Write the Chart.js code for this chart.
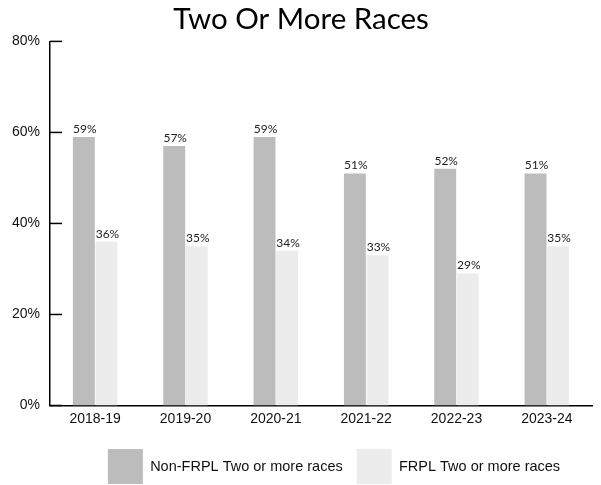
<!DOCTYPE html>
<html>
<head>
<meta charset="utf-8">
<script src="https://cdn.jsdelivr.net/npm/chart.js@4/dist/chart.umd.min.js"></script>
<style>
  html, body { margin: 0; padding: 0; background: #fff; }
  #wrap { width: 601px; height: 485px; }
</style>
</head>
<body>
<div id="wrap"><canvas id="myChart"></canvas></div>
<script>
const years = ['2018-19', '2019-20', '2020-21', '2021-22', '2022-23', '2023-24'];
const nonFrpl = [59, 57, 59, 51, 52, 51];
const frpl = [36, 35, 34, 33, 29, 35];
const yTicks = [0, 20, 40, 60, 80];

// inward tick marks on the y axis
const innerTicks = {
  id: 'innerTicks',
  afterDraw(chart) {
    const y = chart.scales.y;
    const ctx = chart.ctx;
    ctx.save();
    ctx.strokeStyle = '#000';
    ctx.lineWidth = 1.5;
    yTicks.forEach(v => {
      const py = y.getPixelForValue(v);
      ctx.beginPath();
      ctx.moveTo(chart.chartArea.left, py);
      ctx.lineTo(chart.chartArea.left + 12, py);
      ctx.stroke();
    });
    ctx.restore();
  }
};

// value labels above each bar
const barLabels = {
  id: 'barLabels',
  afterDatasetsDraw(chart) {
    const ctx = chart.ctx;
    ctx.save();
    ctx.font = '12px Lato';
    ctx.fillStyle = '#222';
    ctx.textAlign = 'center';
    ctx.textBaseline = 'bottom';
    chart.data.datasets.forEach((ds, i) => {
      chart.getDatasetMeta(i).data.forEach((bar, j) => {
        ctx.fillText(ds.data[j] + '%', bar.x + 1, bar.y - 2);
      });
    });
    ctx.restore();
  }
};

// move the legend a bit right and down
const legendShift = {
  id: 'legendShift',
  afterLayout(chart) {
    const lg = chart.legend;
    lg.left += 33; lg.right += 33;
    lg.top += 11; lg.bottom += 11;
  }
};

new Chart(document.getElementById('myChart'), {
  type: 'bar',
  data: {
    labels: years,
    datasets: [
      {
        label: 'Non-FRPL Two or more races',
        data: nonFrpl,
        backgroundColor: '#bcbcbd',
        categoryPercentage: 0.5,
        barPercentage: 0.97
      },
      {
        label: 'FRPL Two or more races',
        data: frpl,
        backgroundColor: '#ececec',
        categoryPercentage: 0.5,
        barPercentage: 0.97
      }
    ]
  },
  options: {
    responsive: true,
    maintainAspectRatio: false,
    animation: false,
    layout: { padding: { left: 10, right: 9, bottom: 2 } },
    plugins: {
      title: {
        display: true,
        text: 'Two Or More Races',
        color: '#000',
        font: { family: 'Lato', size: 29.5, weight: 'normal' },
        padding: { top: 2, bottom: 4 }
      },
      legend: {
        position: 'bottom',
        labels: {
          boxWidth: 35,
          boxHeight: 35,
          color: '#111',
          padding: 14,
          font: { family: 'Liberation Sans', size: 14.5 }
        }
      },
      tooltip: { enabled: false }
    },
    scales: {
      x: {
        clip: false,
        grid: { display: false, drawTicks: false },
        border: { color: '#000', width: 1.5 },
        afterFit(scale) { scale.height = 18.5; },
        ticks: {
          color: '#111',
          padding: 5,
          font: { family: 'Liberation Sans', size: 14 }
        }
      },
      y: {
        min: 0,
        max: 80,
        grid: { display: false, drawTicks: false },
        border: { color: '#000', width: 1.5 },
        afterFit(scale) { scale.width = 40; },
        ticks: {
          stepSize: 20,
          padding: 10,
          color: '#111',
          font: { family: 'Liberation Sans', size: 14 },
          callback: v => v + '%'
        }
      }
    }
  },
  plugins: [innerTicks, barLabels, legendShift]
});
</script>
</body>
</html>
